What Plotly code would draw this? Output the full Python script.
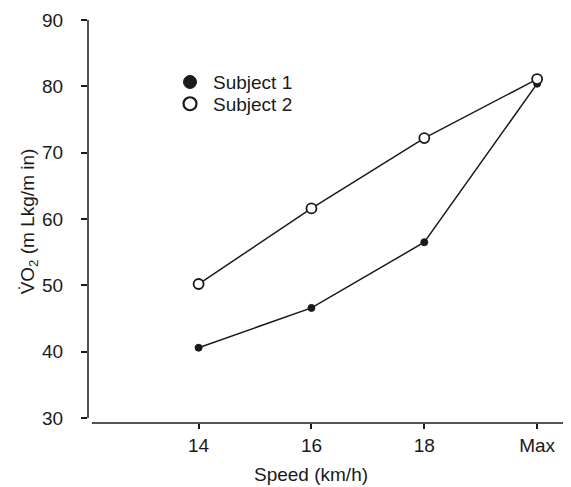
import plotly.graph_objects as go

speeds = ["14", "16", "18", "Max"]
subject1 = [40.6, 46.6, 56.5, 80.4]
subject2 = [50.2, 61.6, 72.2, 81.1]
y_ticks = [30, 40, 50, 60, 70, 80, 90]

FONT = "Liberation Sans, Arial, sans-serif"
INK = "#1a1a1a"
FS = 19
fig = go.Figure()
fig.add_trace(go.Scatter(x=speeds, y=subject1, name="Subject 1", mode="lines+markers", showlegend=False,
                         line=dict(color=INK, width=1.5),
                         marker=dict(symbol="circle", size=7, color=INK, line=dict(color=INK, width=1))))
fig.add_trace(go.Scatter(x=speeds, y=subject2, name="Subject 2", mode="lines+markers", showlegend=False,
                         line=dict(color=INK, width=1.5),
                         marker=dict(symbol="circle", size=10, color="white", line=dict(color=INK, width=1.8))))
# legend entries (markers only, as in the reference)
fig.add_trace(go.Scatter(x=[None], y=[None], name="Subject 1", mode="markers", legend="legend",
                         marker=dict(symbol="circle", size=13, color=INK, line=dict(color=INK, width=1))))
fig.add_trace(go.Scatter(x=[None], y=[None], name="Subject 2", mode="markers", legend="legend2",
                         marker=dict(symbol="circle", size=13, color="white", line=dict(color=INK, width=2.2))))

leg = dict(xanchor="left", yanchor="top", bgcolor="rgba(0,0,0,0)",
           font=dict(size=FS, color=INK), itemwidth=36)
fig.update_layout(
    width=571, height=487, margin=dict(l=80, r=8, t=12, b=72),
    paper_bgcolor="white", plot_bgcolor="white",
    font=dict(family=FONT, size=FS, color=INK),
    showlegend=True,
    legend=dict(x=0.1636, y=0.893, **leg),
    legend2=dict(x=0.1636, y=0.839, **leg),
    xaxis=dict(type="category", range=[-0.98, 3.3], showline=False, showgrid=False, zeroline=False,
               automargin=False,
               ticks="outside", ticklen=5, tickcolor=INK, tickwidth=1.5, tickfont=dict(size=FS, color=INK)),
    yaxis=dict(range=[29.25, 90], tickvals=y_ticks, showline=False, showgrid=False, zeroline=False,
               automargin=False, ticklabelstandoff=14,
               ticks="outside", ticklen=6, tickcolor=INK, tickwidth=1.5, tickfont=dict(size=FS, color=INK),
               title=dict(text="V\u0307O<sub>2</sub> (m Lkg/m in)", font=dict(size=FS, color=INK), standoff=2)),
)
# detached axis lines
fig.add_shape(type="line", xref="paper", yref="y", x0=0, x1=0, y0=30, y1=90,
              line=dict(color=INK, width=1.5))
fig.add_shape(type="line", xref="paper", yref="paper", x0=0.008, x1=1, y0=0, y1=0,
              line=dict(color=INK, width=1.5))
fig.add_annotation(text="Speed (km/h)", xref="x", yref="paper", x=1, y=0, yshift=-39,
                   showarrow=False, yanchor="top", font=dict(size=FS, color=INK))
fig.write_html("out.html")
